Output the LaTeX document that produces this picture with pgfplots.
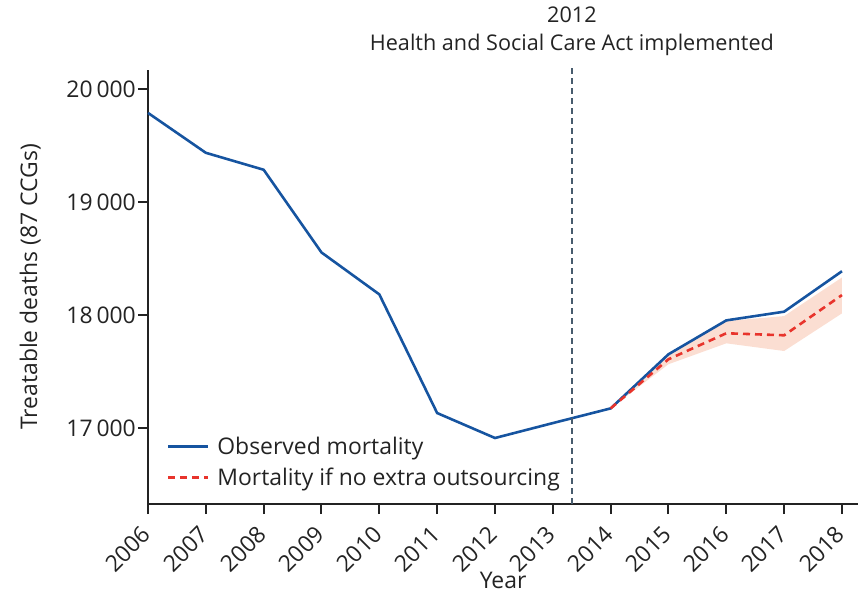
\documentclass[border=0pt]{standalone}
\usepackage{fontspec}
\setmainfont{Open Sans}
\usepackage{pgfplots}
\pgfplotsset{compat=1.18}

\definecolor{obsblue}{RGB}{22,84,160}
\definecolor{cfred}{RGB}{232,52,44}
\definecolor{bandpeach}{RGB}{251,222,210}
\definecolor{actgrey}{RGB}{72,92,110}
\definecolor{ink}{RGB}{35,35,35}

\newcommand{\lblfont}{\fontsize{23}{27}\selectfont}

\begin{document}
\begin{tikzpicture}[font=\lblfont]
\begin{axis}[
  at={(148bp,89bp)}, anchor=south west,
  scale only axis,
  x=57.83bp, y=0.113bp,
  xmin=2006, xmax=2018.28,
  ymin=16327, ymax=20168,
  axis lines*=left,
  axis line style={line width=2.4pt, ink},
  tick align=outside,
  major tick length=10bp,
  tick style={line width=2pt, ink},
  scaled y ticks=false,
  tick label style={font=\lblfont, text=ink},
  xtick={2006,...,2018},
  xticklabels={2006,2007,2008,2009,2010,2011,2012,2013,2014,2015,2016,2017,2018},
  xticklabel style={rotate=45, anchor=east, inner sep=2bp},
  xticklabel shift=15bp,
  ytick={17000,18000,19000,20000},
  yticklabels={17\,000,18\,000,19\,000,20\,000},
  yticklabel style={inner sep=2bp},
  xlabel={Year},
  ylabel={Treatable deaths (87 CCGs)},
  xlabel style={at={(rel axis cs:0.5,-0.150)}, anchor=north, font=\lblfont, text=ink},
  ylabel style={at={(rel axis cs:-0.146,0.5)}, anchor=south, rotate=0, font=\lblfont, text=ink},
  legend style={draw=none, fill=none, at={(rel axis cs:0.022,0.029)}, anchor=south west,
    row sep=8bp, text=ink, font=\lblfont,
    /tikz/every odd column/.append style={column sep=6bp}},
  legend cell align=left,
  legend image code/.code={\draw[#1] (0bp,0bp) -- (40bp,0bp);},
  clip=false,
]
% uncertainty band around the counterfactual series
\addplot[fill=bandpeach, draw=none, forget plot] coordinates {
  (2014,17173) (2015,17643) (2016,17946) (2017,17990) (2018,18332)
  (2018,18014) (2017,17681) (2016,17749) (2015,17564) (2014,17173)
} -- cycle;
% observed treatable deaths
\addplot[obsblue, line width=2.6pt] coordinates {
  (2006,19788) (2007,19435) (2008,19285) (2009,18553) (2010,18182)
  (2011,17132) (2012,16911) (2013,17043) (2014,17173) (2015,17652)
  (2016,17952) (2017,18029) (2018,18387)
};
\addlegendentry{Observed mortality}
% counterfactual: no extra outsourcing
\addplot[cfred, line width=2.6pt, dash pattern=on 7bp off 5bp] coordinates {
  (2014,17173) (2015,17608) (2016,17838) (2017,17820) (2018,18176)
};
\addlegendentry{Mortality if no extra outsourcing}
% policy marker
\addplot[actgrey, line width=1.8pt, dash pattern=on 6bp off 4bp, forget plot] coordinates {
  (2013.33,16327) (2013.33,20210)
};
\node[anchor=south, align=center, text=ink, font=\fontsize{21.7}{28}\selectfont]
  at (axis cs:2013.33,20260) {2012\\Health and Social Care Act implemented};
\end{axis}
\pgfresetboundingbox
\path[use as bounding box] (0,0) rectangle (862bp,593bp);
\end{tikzpicture}
\end{document}
